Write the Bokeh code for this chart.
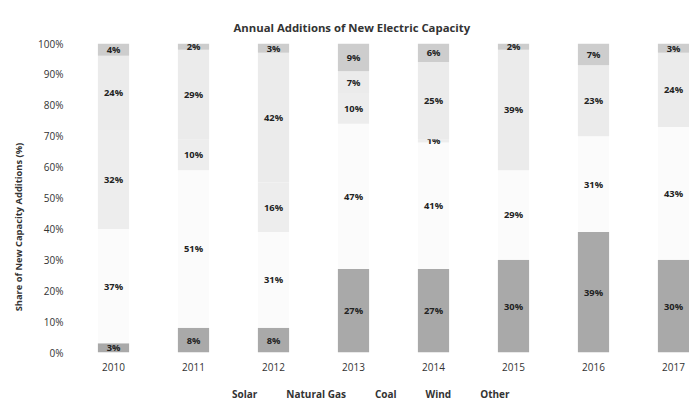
from bokeh.plotting import figure
from bokeh.layouts import column
from bokeh.models import (Range1d, FixedTicker, NumeralTickFormatter,
                          Legend, LegendItem)
from bokeh.core.properties import value
from bokeh.embed import file_html
from bokeh.resources import INLINE

years = [2010, 2011, 2012, 2013, 2014, 2015, 2016, 2017]
solar = [3, 8, 8, 27, 27, 30, 39, 30]
natural_gas = [37, 51, 31, 47, 41, 29, 31, 43]
coal = [32, 10, 16, 10, 1, 0, 0, 0]
wind = [24, 29, 42, 7, 25, 39, 23, 24]
other = [4, 2, 3, 9, 6, 2, 7, 3]

series_names = ["Solar", "Natural Gas", "Coal", "Wind", "Other"]
series_vals = [solar, natural_gas, coal, wind, other]
colors = ["#a9a9a9", "#fbfbfb", "#ededed", "#ebebeb", "#cdcdcd"]
legend_colors = ["#6f6f6f", "#ffffff", "#ffffff", "#ffffff", "#d2d2d2"]

FONT = "Open Sans"

p = figure(frame_width=616, frame_height=309, output_backend="svg", toolbar_location=None,
           x_range=Range1d(2009.5, 2017.2), y_range=Range1d(0, 1.0),
           min_border_left=73, min_border_right=0, min_border_top=43, min_border_bottom=27,
           outline_line_color=None, background_fill_color="white", border_fill_color="white")

bottoms = [0.0] * len(years)
for name, vals, col in zip(series_names, series_vals, colors):
    tops = [b + v / 100.0 for b, v in zip(bottoms, vals)]
    p.vbar(x=years, bottom=bottoms, top=tops, width=0.39, fill_color=col, line_color=None)
    lx, ly, lt = [], [], []
    for x, b, t, v in zip(years, bottoms, tops, vals):
        if v > 0:
            lx.append(x)
            ly.append((b + t) / 2)
            lt.append(f"{v}%")
    p.text(x=lx, y=ly, text=lt, text_font=value(FONT), text_font_size="7pt",
           text_font_style="bold", text_color="#222222", text_align="center",
           text_baseline="middle")
    bottoms = tops

# title
p.title.text = "Annual Additions of New Electric Capacity"
p.title.align = "left"
p.title.offset = 160
p.title.standoff = 17
p.title.text_font = FONT
p.title.text_font_size = "8.5pt"
p.title.text_font_style = "bold"
p.title.text_color = "#333333"

# axes
p.xaxis.ticker = FixedTicker(ticks=years)
p.yaxis.ticker = FixedTicker(ticks=[i / 10 for i in range(11)])
p.yaxis.formatter = NumeralTickFormatter(format="0%")
for ax in (p.xaxis, p.yaxis):
    ax.axis_line_color = None
    ax.major_tick_line_color = None
    ax.minor_tick_line_color = None
    ax.major_tick_out = 0
    ax.major_label_text_font = FONT
    ax.major_label_text_font_size = "7.5pt"
    ax.major_label_text_color = "#333333"
p.xaxis.major_label_standoff = 10
p.yaxis.major_label_standoff = 10
p.yaxis.axis_label = "Share of New Capacity Additions (%)" + "\u00a0" * 24
p.yaxis.axis_label_text_font = FONT
p.yaxis.axis_label_text_font_size = "7pt"
p.yaxis.axis_label_text_font_style = "bold"
p.yaxis.axis_label_text_color = "#333333"
p.yaxis.axis_label_standoff = 10
p.xgrid.grid_line_color = None
p.ygrid.grid_line_color = None

# legend in its own strip below the chart
lf = figure(width=689, height=24, output_backend="svg", toolbar_location=None,
            min_border=0, outline_line_color=None, x_range=Range1d(0, 1), y_range=Range1d(0, 1))
lf.axis.visible = False
lf.grid.grid_line_color = None
items = []
for name, lc in zip(series_names, legend_colors):
    rr = lf.vbar(x=[], top=[], width=0.1, fill_color=lc, line_color=None)
    items.append(LegendItem(label=name, renderers=[rr]))
legend = Legend(items=items, orientation="horizontal", location=(150, 2),
                label_text_font=FONT, label_text_font_size="7.5pt", label_text_color="#333333",
                label_text_font_style="bold",
                glyph_width=6, glyph_height=6, label_standoff=3, spacing=20,
                border_line_color=None, background_fill_alpha=0, padding=2, margin=0)
lf.add_layout(legend, "center")

open("out.html", "w").write(file_html(column(p, lf, spacing=0), INLINE))
